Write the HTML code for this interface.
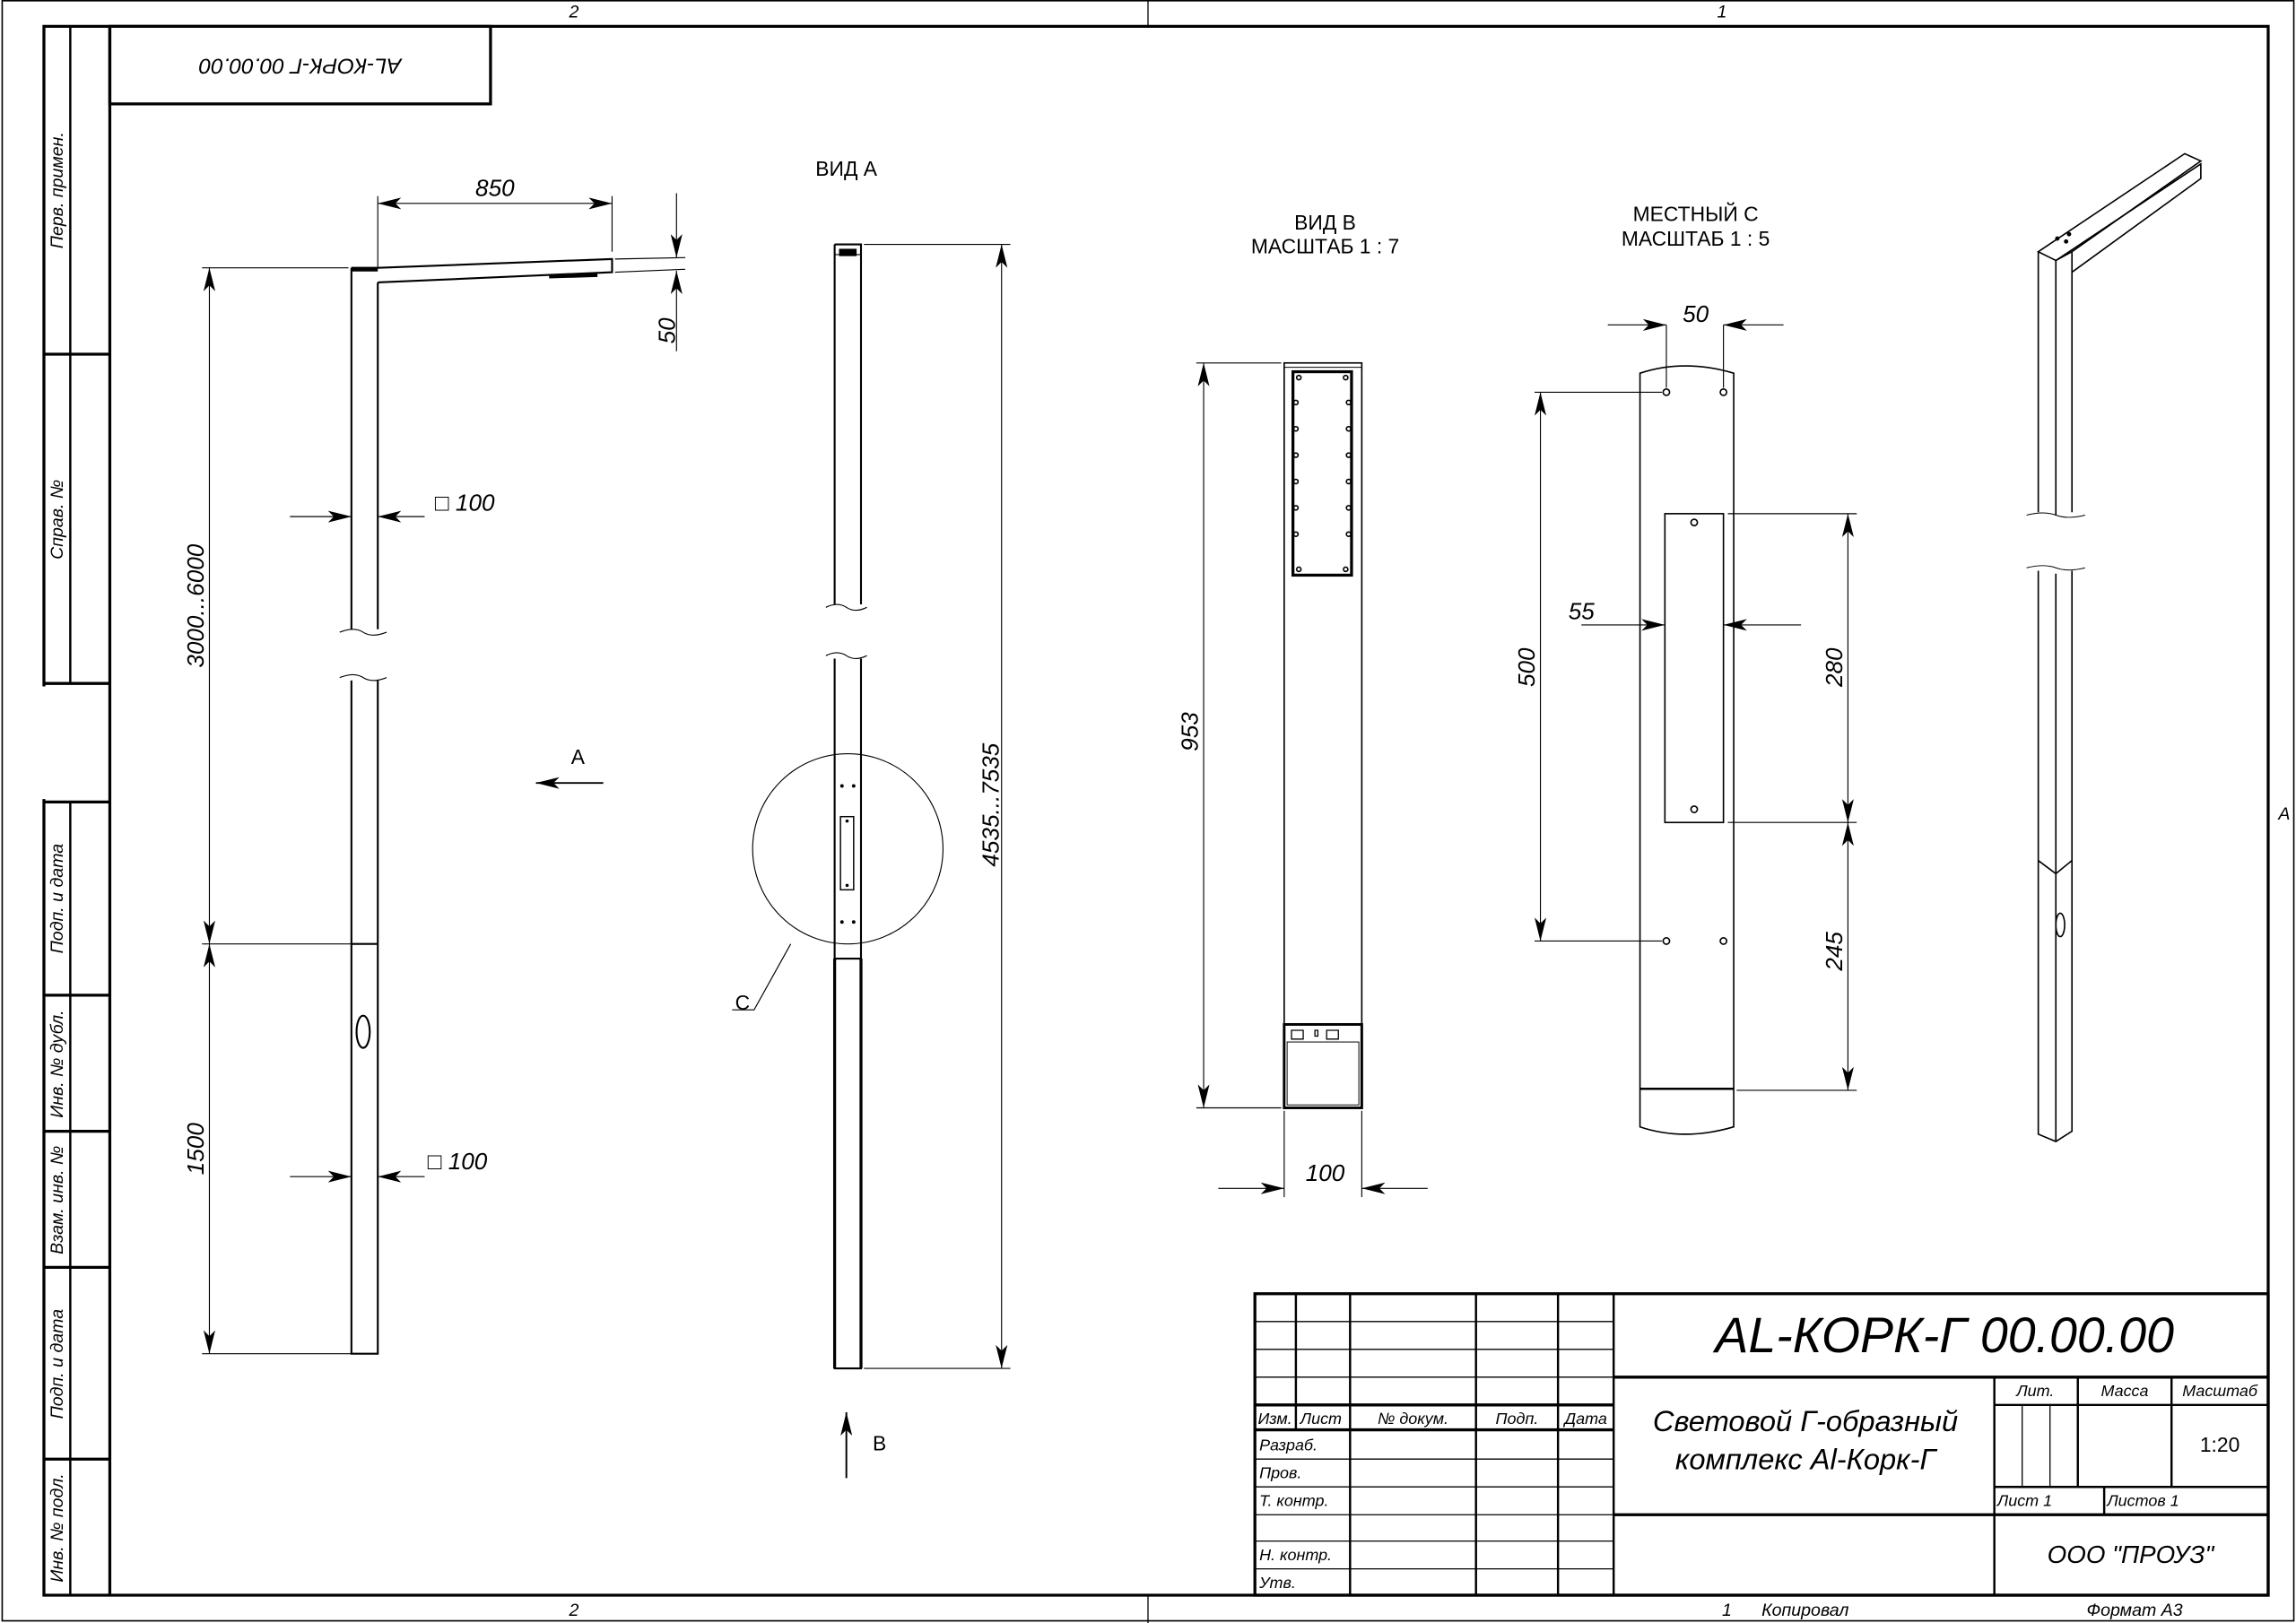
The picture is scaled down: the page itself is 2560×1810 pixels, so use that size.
<!DOCTYPE html>
<html><head><meta charset="utf-8"><style>
html,body{margin:0;padding:0;background:#fff}
svg{display:block}
text{font-family:"Liberation Sans","DejaVu Sans",sans-serif;fill:#000}
.i{font-style:italic}
</style></head><body>
<svg width="2560" height="1810" viewBox="0 0 1568 1109" preserveAspectRatio="none" xmlns="http://www.w3.org/2000/svg">
<defs>
<marker id="a" viewBox="0 0 16 8" refX="16" refY="4" markerWidth="16" markerHeight="8" markerUnits="userSpaceOnUse" orient="auto-start-reverse">
<path d="M0,0 L16,4 L0,8 L4,4 Z" fill="#000"/></marker>
</defs>
<rect width="1568" height="1109" fill="#fff"/>
<g fill="none" stroke="#000">
<rect x="1.5" y="0.5" width="1565" height="1107" stroke-width="1"/>
<line x1="784" y1="0" x2="784" y2="18" stroke-width="0.8"/>
<line x1="784" y1="1090" x2="784" y2="1109" stroke-width="0.8"/>
<rect x="30" y="18" width="1519" height="1072" stroke-width="2"/>
<line x1="30" y1="469" x2="30" y2="546" stroke="#fff" stroke-width="3"/>
<line x1="75" y1="18" x2="75" y2="1090" stroke-width="2"/>
<line x1="48" y1="18" x2="48" y2="467" stroke-width="1.5"/>
<line x1="30" y1="242" x2="75" y2="242" stroke-width="2"/>
<line x1="30" y1="467" x2="75" y2="467" stroke-width="2"/>
<line x1="30" y1="548" x2="75" y2="548" stroke-width="2"/>
<line x1="48" y1="548" x2="48" y2="1090" stroke-width="1.5"/>
<line x1="30" y1="680" x2="75" y2="680" stroke-width="2"/>
<line x1="30" y1="773" x2="75" y2="773" stroke-width="2"/>
<line x1="30" y1="866" x2="75" y2="866" stroke-width="2"/>
<line x1="30" y1="997" x2="75" y2="997" stroke-width="2"/>
<rect x="75" y="18" width="260" height="53" stroke-width="2"/>

<rect x="857" y="884" width="692" height="206" stroke-width="2"/>
<g stroke-width="1.5">
<line x1="885" y1="884" x2="885" y2="977"/>
<line x1="922" y1="884" x2="922" y2="1090"/>
<line x1="1008" y1="884" x2="1008" y2="1090"/>
<line x1="1064" y1="884" x2="1064" y2="1090"/>
<line x1="1102" y1="884" x2="1102" y2="1090"/>
<line x1="857" y1="960" x2="1102" y2="960" stroke-width="2"/>
<line x1="857" y1="977" x2="1102" y2="977" stroke-width="2"/>
<line x1="1102" y1="941" x2="1549" y2="941" stroke-width="2"/>
<line x1="1102" y1="1035" x2="1549" y2="1035" stroke-width="2"/>
<line x1="1362" y1="941" x2="1362" y2="1090"/>
<line x1="1419" y1="941" x2="1419" y2="1016"/>
<line x1="1483" y1="941" x2="1483" y2="1016"/>
<line x1="1362" y1="960" x2="1549" y2="960"/>
<line x1="1362" y1="1016" x2="1549" y2="1016"/>
<line x1="1437" y1="1016" x2="1437" y2="1035"/>
</g>
<g stroke-width="0.8">
<line x1="1381" y1="960" x2="1381" y2="1016"/>
<line x1="1400" y1="960" x2="1400" y2="1016"/>
<line x1="857" y1="903" x2="1102" y2="903"/>
<line x1="857" y1="922" x2="1102" y2="922"/>
<line x1="857" y1="941" x2="1102" y2="941"/>
<line x1="857" y1="997" x2="1102" y2="997"/>
<line x1="857" y1="1016" x2="1102" y2="1016"/>
<line x1="857" y1="1035" x2="1102" y2="1035"/>
<line x1="857" y1="1053" x2="1102" y2="1053"/>
<line x1="857" y1="1072" x2="1102" y2="1072"/>
</g>

<g stroke-width="1.3">
<path d="M240,183 V430 M258,193 V430 M240,465 V925 H258 V465 M240,645 H258"/>
<path d="M240,183 H258 L418,177 V186 L258,193" />
<line x1="240" y1="184" x2="258" y2="184" stroke-width="3"/>
<line x1="375" y1="189" x2="408" y2="188" stroke-width="2.5"/>
<ellipse cx="248" cy="705" rx="4.5" ry="11"/>
</g>
<path d="M232,432 q10,-4 16,0 t16,0 M232,463 q10,-4 16,0 t16,0" stroke-width="0.7"/>
<g stroke-width="0.7">
<line x1="258" y1="134" x2="258" y2="183"/>
<line x1="418" y1="134" x2="418" y2="172"/>
<line x1="138" y1="183" x2="238" y2="183"/>
<line x1="138" y1="645" x2="240" y2="645"/>
<line x1="138" y1="925" x2="240" y2="925"/>
<line x1="420" y1="177" x2="468" y2="176"/>
<line x1="420" y1="186" x2="468" y2="184"/>
<line x1="258" y1="139" x2="418" y2="139" marker-start="url(#a)" marker-end="url(#a)"/>
<line x1="143" y1="183" x2="143" y2="645" marker-start="url(#a)" marker-end="url(#a)"/>
<line x1="143" y1="645" x2="143" y2="925" marker-start="url(#a)" marker-end="url(#a)"/>
<line x1="462" y1="132" x2="462" y2="176" marker-end="url(#a)"/>
<line x1="462" y1="240" x2="462" y2="185" marker-end="url(#a)"/>
<line x1="198" y1="353" x2="240" y2="353" marker-end="url(#a)"/>
<line x1="290" y1="353" x2="258" y2="353" marker-end="url(#a)"/>
<line x1="198" y1="804" x2="240" y2="804" marker-end="url(#a)"/>
<line x1="290" y1="804" x2="258" y2="804" marker-end="url(#a)"/>
<line x1="412" y1="535" x2="366" y2="535" marker-end="url(#a)" stroke-width="1.2"/>
</g>

<g stroke-width="1.3">
<path d="M570,167 H588 V413 M570,167 V413 M570,450 V935 H588 V450"/>
<line x1="570" y1="655" x2="588" y2="655"/>
<line x1="570" y1="174" x2="588" y2="174" stroke-width="0.7"/>
<rect x="573" y="170" width="12" height="5" fill="#000" stroke="none"/>
<rect x="574" y="558" width="9" height="50" stroke-width="0.9"/>
<line x1="570" y1="655" x2="570" y2="935" stroke-width="2"/>
<line x1="588" y1="655" x2="588" y2="935" stroke-width="2"/>
</g>
<path d="M564,415 q8,-4 14,0 t14,0 M564,448 q8,-4 14,0 t14,0" stroke-width="0.7"/>
<g fill="#000" stroke="none">
<circle cx="575" cy="537" r="1.2"/><circle cx="583" cy="537" r="1.2"/>
<circle cx="575" cy="630" r="1.2"/><circle cx="583" cy="630" r="1.2"/>
<circle cx="578.5" cy="561" r="1.1"/><circle cx="578.5" cy="605" r="1.1"/>
</g>
<g stroke-width="0.7">
<circle cx="579" cy="580" r="65"/>
<path d="M540,645 L515,690 H500"/>
<line x1="590" y1="167" x2="690" y2="167"/>
<line x1="590" y1="935" x2="690" y2="935"/>
<line x1="684" y1="167" x2="684" y2="935" marker-start="url(#a)" marker-end="url(#a)"/>
<line x1="578" y1="1010" x2="578" y2="965" marker-end="url(#a)" stroke-width="1.2"/>
</g>

<g stroke-width="1">
<rect x="877" y="248" width="53" height="509"/>
<line x1="877" y1="251" x2="930" y2="251" stroke-width="0.6"/>
<rect x="883" y="254" width="40" height="139" stroke-width="2"/>
<rect x="877" y="700" width="53" height="57" stroke-width="1.8"/>
<rect x="879" y="712" width="49" height="43" stroke-width="0.6"/>
<path d="M882,704 h8 v6 h-8z M906,704 h8 v6 h-8z M898,704 h2 v4 h-2z" stroke-width="0.8"/>
</g>
<g fill="none" stroke-width="1">
<circle cx="887" cy="258" r="1.5"/><circle cx="919" cy="258" r="1.5"/>
<circle cx="885" cy="275" r="1.5"/><circle cx="921" cy="275" r="1.5"/>
<circle cx="885" cy="293" r="1.5"/><circle cx="921" cy="293" r="1.5"/>
<circle cx="885" cy="311" r="1.5"/><circle cx="921" cy="311" r="1.5"/>
<circle cx="885" cy="329" r="1.5"/><circle cx="921" cy="329" r="1.5"/>
<circle cx="885" cy="347" r="1.5"/><circle cx="921" cy="347" r="1.5"/>
<circle cx="885" cy="365" r="1.5"/><circle cx="921" cy="365" r="1.5"/>
<circle cx="887" cy="389" r="1.5"/><circle cx="919" cy="389" r="1.5"/>
</g>
<g stroke-width="0.7">
<line x1="817" y1="248" x2="875" y2="248"/>
<line x1="817" y1="757" x2="875" y2="757"/>
<line x1="822" y1="248" x2="822" y2="757" marker-start="url(#a)" marker-end="url(#a)"/>
<line x1="877" y1="759" x2="877" y2="818"/>
<line x1="930" y1="759" x2="930" y2="818"/>
<line x1="832" y1="812" x2="877" y2="812" marker-end="url(#a)"/>
<line x1="975" y1="812" x2="930" y2="812" marker-end="url(#a)"/>
</g>

<g stroke-width="1">
<path d="M1120,255 Q1150,245 1184,255 V770 Q1150,780 1120,770 Z"/>
<line x1="1120" y1="744" x2="1184" y2="744" stroke-width="1.5"/>
<rect x="1137" y="351" width="40" height="211"/>
</g>
<g stroke-width="1">
<circle cx="1138" cy="268" r="2.2"/><circle cx="1177" cy="268" r="2.2"/>
<circle cx="1138" cy="643" r="2.2"/><circle cx="1177" cy="643" r="2.2"/>
<circle cx="1157" cy="357" r="2.2"/><circle cx="1157" cy="553" r="2.2"/>
</g>
<g stroke-width="0.7">
<line x1="1138" y1="222" x2="1138" y2="265"/>
<line x1="1177" y1="222" x2="1177" y2="265"/>
<line x1="1098" y1="222" x2="1138" y2="222" marker-end="url(#a)"/>
<line x1="1218" y1="222" x2="1177" y2="222" marker-end="url(#a)"/>
<line x1="1048" y1="268" x2="1135" y2="268"/>
<line x1="1048" y1="643" x2="1135" y2="643"/>
<line x1="1052" y1="268" x2="1052" y2="643" marker-start="url(#a)" marker-end="url(#a)"/>
<line x1="1080" y1="427" x2="1137" y2="427" marker-end="url(#a)"/>
<line x1="1230" y1="427" x2="1177" y2="427" marker-end="url(#a)"/>
<line x1="1180" y1="351" x2="1268" y2="351"/>
<line x1="1180" y1="562" x2="1268" y2="562"/>
<line x1="1186" y1="745" x2="1268" y2="745"/>
<line x1="1262" y1="351" x2="1262" y2="562" marker-start="url(#a)" marker-end="url(#a)"/>
<line x1="1262" y1="562" x2="1262" y2="745" marker-start="url(#a)" marker-end="url(#a)"/>
</g>

<g stroke-width="1">
<path d="M1392,172 L1392,350 M1404,178 L1404,352 M1415,172 L1415,350"/>
<path d="M1392,390 L1392,775 L1404,780 L1415,773 L1415,390 M1404,392 L1404,780"/>
<path d="M1392,172 L1492,105 L1503,110 L1415,172 L1404,178 Z"/>
<path d="M1404,178 L1503,112 L1503,122 L1415,186"/>
<path d="M1392,588 L1404,597 L1415,588"/>
<ellipse cx="1407" cy="632" rx="3" ry="8"/>
</g>
<g fill="#000"><circle cx="1405" cy="163" r="1"/><circle cx="1411" cy="165" r="1"/><circle cx="1413" cy="160" r="1"/></g>
<path d="M1384,352 q12,-3 20,0 t20,0 M1384,388 q12,-3 20,0 t20,0" stroke-width="0.6"/>
</g>

<g font-size="12">
<text x="392" y="12" text-anchor="middle" class="i">2</text>
<text x="1176" y="12" text-anchor="middle" class="i">1</text>
<text x="392" y="1104" text-anchor="middle" class="i">2</text>
<text x="1176" y="1104" class="i">1</text>
<text x="1203" y="1104" class="i">Копировал</text>
<text x="1425" y="1104" class="i">Формат А3</text>
<text x="1560" y="560" text-anchor="middle" class="i">A</text>
</g>
<text transform="translate(205,45) rotate(180)" font-size="15" text-anchor="middle" class="i" dy="5">AL-КОРК-Г 00.00.00</text>
<g font-size="12" class="i">
<text transform="translate(43,130) rotate(-90)" text-anchor="middle">Перв. примен.</text>
<text transform="translate(43,355) rotate(-90)" text-anchor="middle">Справ. №</text>
<text transform="translate(43,614) rotate(-90)" text-anchor="middle">Подп. и дата</text>
<text transform="translate(43,727) rotate(-90)" text-anchor="middle">Инв. № дубл.</text>
<text transform="translate(43,820) rotate(-90)" text-anchor="middle">Взам. инв. №</text>
<text transform="translate(43,932) rotate(-90)" text-anchor="middle">Подп. и дата</text>
<text transform="translate(43,1044) rotate(-90)" text-anchor="middle">Инв. № подл.</text>
</g>
<g font-size="16" class="i">
<text x="338" y="134" text-anchor="middle">850</text>
<text transform="translate(461,226) rotate(-90)" text-anchor="middle">50</text>
<text transform="translate(139,414) rotate(-90)" text-anchor="middle">3000...6000</text>
<text transform="translate(139,785) rotate(-90)" text-anchor="middle">1500</text>
<text x="297" y="349">□ 100</text>
<text x="292" y="799">□ 100</text>
<text transform="translate(682,550) rotate(-90)" text-anchor="middle">4535...7535</text>
<text transform="translate(818,500) rotate(-90)" text-anchor="middle">953</text>
<text x="905" y="807" text-anchor="middle">100</text>
<text x="1158" y="220" text-anchor="middle">50</text>
<text transform="translate(1048,456) rotate(-90)" text-anchor="middle">500</text>
<text x="1080" y="423" text-anchor="middle">55</text>
<text transform="translate(1258,456) rotate(-90)" text-anchor="middle">280</text>
<text transform="translate(1258,650) rotate(-90)" text-anchor="middle">245</text>
</g>
<g font-size="14">
<text x="390" y="522">A</text>
<text x="578" y="120" text-anchor="middle">ВИД А</text>
<text x="596" y="991">B</text>
<text x="502" y="690">C</text>
<text x="905" y="157" text-anchor="middle">ВИД В</text>
<text x="905" y="173" text-anchor="middle">МАСШТАБ 1 : 7</text>
<text x="1158" y="151" text-anchor="middle">МЕСТНЫЙ С</text>
<text x="1158" y="168" text-anchor="middle">МАСШТАБ 1 : 5</text>
</g>
<text x="1328" y="924" font-size="34" text-anchor="middle" class="i">AL-КОРК-Г 00.00.00</text>
<text x="1233" y="978" font-size="20" text-anchor="middle" class="i">Световой Г-образный</text>
<text x="1233" y="1004" font-size="20" text-anchor="middle" class="i">комплекс Al-Корк-Г</text>
<text x="1455" y="1068" font-size="17" text-anchor="middle" class="i">ООО "ПРОУЗ"</text>
<text x="1516" y="992" font-size="14" text-anchor="middle">1:20</text>
<g font-size="11" class="i">
<text x="1390" y="954" text-anchor="middle">Лит.</text>
<text x="1451" y="954" text-anchor="middle">Масса</text>
<text x="1516" y="954" text-anchor="middle">Масштаб</text>
<text x="1364" y="1029">Лист 1</text>
<text x="1439" y="1029">Листов 1</text>
<text x="859" y="973">Изм.</text>
<text x="888" y="973">Лист</text>
<text x="965" y="973" text-anchor="middle">№ докум.</text>
<text x="1036" y="973" text-anchor="middle">Подп.</text>
<text x="1083" y="973" text-anchor="middle">Дата</text>
<text x="860" y="991">Разраб.</text>
<text x="860" y="1010">Пров.</text>
<text x="860" y="1029">Т. контр.</text>
<text x="860" y="1066">Н. контр.</text>
<text x="860" y="1085">Утв.</text>
</g>
</svg>
</body></html>
